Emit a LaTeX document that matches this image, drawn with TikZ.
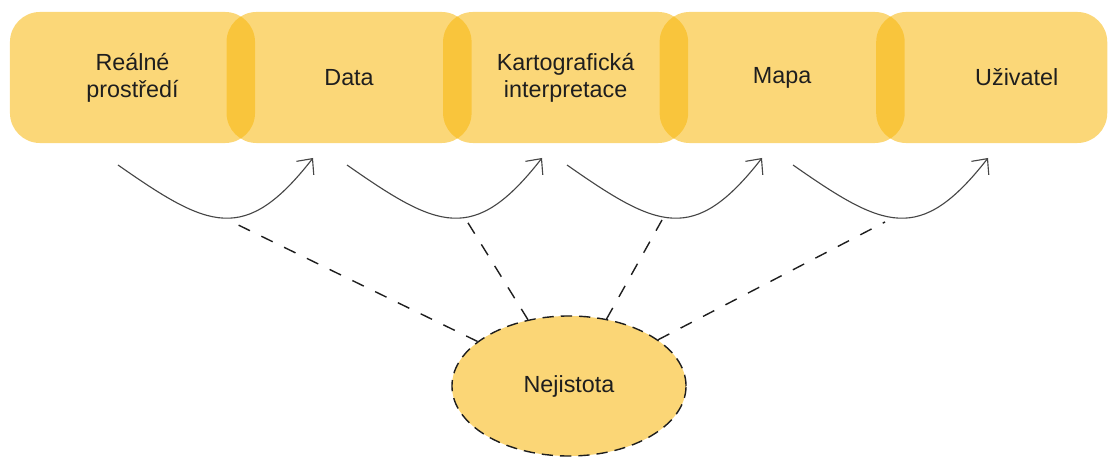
\documentclass[tikz,border=0pt]{standalone}
\usepackage{fontspec}
\setmainfont{Liberation Sans}
\usepackage{tikz}
\usetikzlibrary{positioning, arrows.meta, shapes.geometric}
\definecolor{boxyellow}{RGB}{248,182,10}
\definecolor{nejyellow}{RGB}{251,214,118}
\definecolor{curvegray}{RGB}{70,70,70}
\definecolor{textdark}{RGB}{30,30,30}
\tikzset{
  stagebox/.style={
    rectangle,
    rounded corners=0.75cm,
    fill=boxyellow,
    fill opacity=0.55,
    text opacity=1,
    text=textdark,
    minimum width=6.125cm,
    minimum height=3.275cm,
    align=center,
    font=\fontsize{16.6}{19.2}\selectfont,
    inner sep=0pt,
    outer sep=0pt
  },
  uncertnode/.style={
    ellipse,
    draw=textdark,
    dash pattern=on 8pt off 5pt,
    line width=1pt,
    fill=nejyellow,
    text=textdark,
    minimum width=5.85cm,
    minimum height=3.5cm,
    font=\fontsize{16.6}{19.2}\selectfont,
    inner sep=0pt
  },
  stagearrow/.style={
    -{Straight Barb[length=3mm,width=5.5mm]},
    draw=curvegray,
    line width=0.8pt
  },
  uncertlink/.style={
    draw=textdark,
    line width=1pt,
    dash pattern=on 9pt off 9pt
  }
}
\begin{document}
\begin{tikzpicture}[x=0.025cm, y=0.025cm]
  \useasboundingbox (0,0) rectangle (1111,-457);
  % process stages
  \node[stagebox] (real) at (132.5,-77.5) {Reálné\\prostředí};
  \node[stagebox, right=-0.7125cm of real] (data) {Data};
  \node[stagebox, right=-0.7125cm of data] (interp) {Kartografická\\interpretace};
  \node[stagebox, right=-0.7125cm of interp] (mapa) {Mapa};
  \node[stagebox, minimum width=5.775cm, right=-0.7125cm of mapa] (user)
    {\hspace*{1.25cm}Uživatel};
  % uncertainty
  \node[uncertnode] (nej) at (569,-386) {Nejistota};
  % transitions
  \foreach \i/\sx in {1/118, 2/347, 3/567, 4/793} {
    \coordinate (s\i) at (\sx,-165);
    \coordinate (t\i) at (\sx+195,-158);
    \draw[stagearrow] (s\i) to[out=-35, in=-128, looseness=1.45] (t\i);
  }
  \coordinate (d1) at (228,-220);
  \coordinate (d2) at (465,-218);
  \coordinate (d3) at (662,-220);
  \coordinate (d4) at (885,-222);
  \draw[uncertlink] (nej) -- (d1);
  \draw[uncertlink] (nej) -- (d2);
  \draw[uncertlink] (nej) -- (d3);
  \draw[uncertlink] (nej) -- (d4);
\end{tikzpicture}
\end{document}
